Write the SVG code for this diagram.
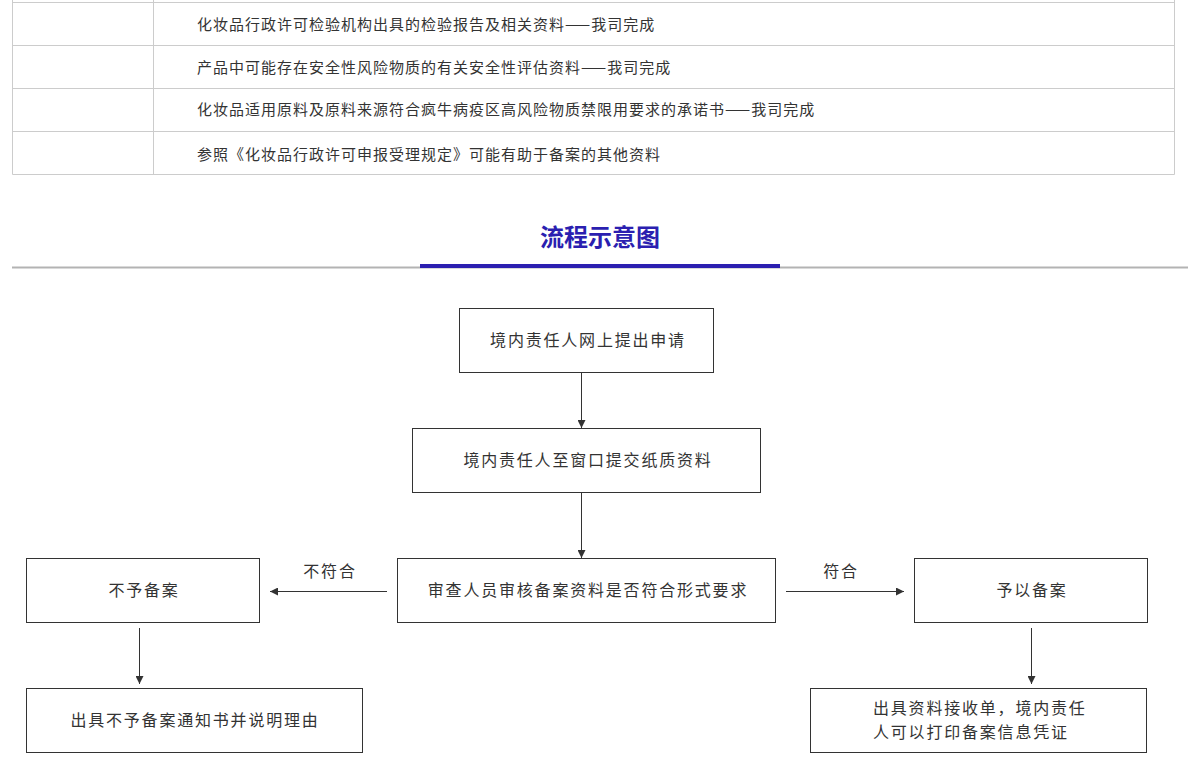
<svg xmlns="http://www.w3.org/2000/svg" width="1200" height="771" viewBox="0 0 1200 771">
<defs>
<style>
.t{font-family:"Noto Sans CJK SC","Liberation Sans",sans-serif;font-size:15px;letter-spacing:1px;fill:#333}
.f{font-family:"Noto Sans CJK SC","Liberation Sans",sans-serif;font-size:16px;letter-spacing:1.8px;fill:#333}
.b{fill:#fff;stroke:#333;stroke-width:1}
.g{stroke:#ccc;stroke-width:1;fill:none}
.c{stroke:#333;stroke-width:1;fill:none;marker-end:url(#a)}
</style>
<marker id="a" viewBox="0 0 10 10" refX="10" refY="5" markerWidth="8" markerHeight="8" markerUnits="userSpaceOnUse" orient="auto"><path d="M0,0 L10,5 L0,10 z" fill="#333"/></marker>
</defs>
<rect width="1200" height="771" fill="#fff"/>
<g id="table">
<path class="g" d="M12.5,0 V174.5 H1174.5 V0 M153.5,0 V174.5 M12.5,2.5 H1174.5 M12.5,45.5 H1174.5 M12.5,88.5 H1174.5 M12.5,131.5 H1174.5"/>
<text class="t" x="197" y="30">化妆品行政许可检验机构出具的检验报告及相关资料——我司完成</text>
<text class="t" x="197" y="73">产品中可能存在安全性风险物质的有关安全性评估资料——我司完成</text>
<text class="t" x="197" y="115">化妆品适用原料及原料来源符合疯牛病疫区高风险物质禁限用要求的承诺书——我司完成</text>
<text class="t" x="197" y="160">参照《化妆品行政许可申报受理规定》可能有助于备案的其他资料</text>
</g>
<g id="title">
<text x="600" y="246" text-anchor="middle" font-family="Noto Sans CJK SC,sans-serif" font-size="24" font-weight="bold" fill="#2b1fb0">流程示意图</text>
<line x1="12" y1="267.5" x2="1188" y2="267.5" stroke="#b3b3b3" stroke-width="2"/>
<rect x="420" y="264" width="360" height="4" fill="#2b1fb0"/>
</g>
<g id="connectors">
<line class="c" x1="581.5" y1="372" x2="581.5" y2="428"/>
<line class="c" x1="581.5" y1="492" x2="581.5" y2="558"/>
<line class="c" x1="387" y1="591.5" x2="270" y2="591.5"/>
<line class="c" x1="786" y1="591.5" x2="904" y2="591.5"/>
<line class="c" x1="139.5" y1="628" x2="139.5" y2="684"/>
<line class="c" x1="1031.5" y1="628" x2="1031.5" y2="684"/>
<text class="f" x="330" y="577" text-anchor="middle">不符合</text>
<text class="f" x="841" y="577" text-anchor="middle">符合</text>
</g>
<g id="n1"><rect class="b" x="459.5" y="308.5" width="254" height="64"/><text class="f" x="588" y="346" text-anchor="middle">境内责任人网上提出申请</text></g>
<g id="n2"><rect class="b" x="412.5" y="428.5" width="348" height="64"/><text class="f" x="588" y="466" text-anchor="middle">境内责任人至窗口提交纸质资料</text></g>
<g id="n3"><rect class="b" x="397.5" y="558.5" width="378" height="64"/><text class="f" x="588" y="596" text-anchor="middle">审查人员审核备案资料是否符合形式要求</text></g>
<g id="n4"><rect class="b" x="26.5" y="558.5" width="233" height="64"/><text class="f" x="144" y="596" text-anchor="middle">不予备案</text></g>
<g id="n5"><rect class="b" x="914.5" y="558.5" width="233" height="64"/><text class="f" x="1032" y="596" text-anchor="middle">予以备案</text></g>
<g id="n6"><rect class="b" x="26.5" y="688.5" width="336" height="64"/><text class="f" x="195" y="726" text-anchor="middle">出具不予备案通知书并说明理由</text></g>
<g id="n7"><rect class="b" x="810.5" y="688.5" width="336" height="64"/><text class="f" x="873" y="714">出具资料接收单，境内责任</text><text class="f" x="873" y="738">人可以打印备案信息凭证</text></g>
</svg>
